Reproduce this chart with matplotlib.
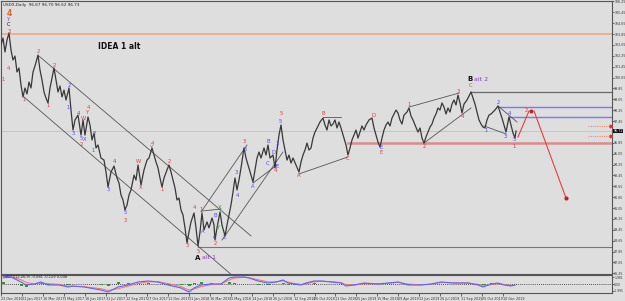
import matplotlib
matplotlib.use("Agg")
import matplotlib.pyplot as plt

# USDX daily, bar slot on chart vs close
t = [0, 2, 4, 6, 8, 10, 12, 14, 16, 18, 20, 22, 24, 26, 28, 30, 32, 34, 37, 39,
     41, 43, 45, 47, 49, 51, 53, 55, 57, 59, 61, 63, 65, 68, 70, 72, 74, 77, 79, 80,
     82, 84, 87, 89, 91, 93, 95, 97, 100, 103, 105, 107, 110, 113, 116, 118, 120, 122, 124, 126,
     128, 130, 133, 135, 137, 139, 140, 143, 146, 148, 151, 153, 155, 157, 159, 161, 163, 166, 168, 170,
     172, 174, 176, 178, 180, 182, 184, 186, 188, 190, 193, 195, 197, 199, 201, 203, 206, 208, 211, 213,
     214, 216, 219, 221, 224, 226, 228, 230, 232, 234, 236, 238, 240, 243, 245, 247, 250, 252, 254, 256,
     258, 260, 263, 265, 267, 269, 272, 274, 276, 278, 280, 282, 284, 286, 288, 290, 292, 295, 298, 300,
     302, 304, 306, 308, 310, 312, 314, 316, 319, 322, 324, 326, 328, 330, 332, 334, 336, 338, 340, 343,
     345, 347, 349, 351, 353, 355, 357, 359, 361, 363, 365, 368, 371, 373, 375, 377, 379, 381, 383, 385,
     387, 389, 391, 393, 395, 397, 399, 401, 403, 406, 408, 410, 412, 414, 417, 419, 421, 423, 425, 427,
     429, 431, 433, 435, 437, 439, 441, 443, 445, 447, 449, 451, 453, 455, 457, 459, 461, 463, 466, 468,
     470, 472, 474, 476, 478, 480, 482, 484, 486, 488, 490, 492, 494, 497, 499, 501, 503, 505, 507, 508,
     510, 512, 514, 515]
close = [103.04, 103.56, 102.53, 103.41, 103.92, 102.67, 101.94, 102.23, 101.06, 101.35, 100.10, 99.22, 99.88, 99.44, 100.32, 99.88, 101.06, 101.50, 102.31, 101.20,
         100.47, 99.59, 99.14, 98.78, 99.88, 100.61, 101.35, 100.47, 99.59, 100.03, 99.22, 99.73, 99.00, 99.88, 98.26, 96.79, 97.53, 97.89, 96.94, 96.42,
         97.53, 96.42, 97.75, 97.16, 96.06, 96.57, 95.47, 95.69, 94.73, 94.58, 93.70, 92.60, 93.70, 94.14, 93.26, 92.89, 92.01, 91.64, 90.91, 91.28,
         92.01, 92.38, 93.48, 93.11, 94.22, 93.26, 92.75, 93.85, 94.58, 94.73, 95.47, 94.95, 94.44, 94.00, 93.26, 92.60, 93.26, 93.85, 94.22, 93.70,
         93.11, 92.53, 91.64, 91.79, 90.91, 90.54, 89.59, 88.48, 89.29, 90.03, 90.69, 89.59, 88.26, 89.29, 90.69, 89.44, 90.03, 89.59, 90.32, 89.81,
         88.70, 89.59, 90.76, 89.81, 89.00, 89.81, 90.54, 91.28, 92.23, 93.26, 92.38, 93.11, 94.00, 95.47, 94.73, 94.22, 93.48, 92.97, 93.85, 94.73,
         95.17, 94.73, 95.47, 94.95, 95.69, 94.73, 94.95, 94.00, 95.32, 96.42, 97.16, 96.06, 95.32, 94.58, 94.95, 94.36, 94.73, 94.22, 93.70, 94.44,
         94.95, 95.32, 95.83, 95.32, 95.47, 96.20, 96.64, 96.94, 97.38, 97.67, 97.16, 96.79, 97.53, 97.09, 97.23, 97.53, 96.94, 97.38, 96.94, 96.20,
         95.69, 94.95, 95.47, 96.06, 96.42, 96.79, 96.20, 96.64, 97.09, 96.79, 97.16, 97.53, 97.67, 96.94, 96.42, 95.91, 95.54, 96.20, 96.79, 97.16,
         97.38, 97.09, 97.67, 97.97, 98.26, 98.04, 97.53, 97.23, 97.89, 98.11, 98.41, 97.82, 97.53, 97.16, 96.64, 96.94, 96.20, 95.83, 96.28, 96.64,
         97.01, 97.23, 97.67, 97.97, 98.41, 98.26, 98.78, 98.48, 97.97, 98.41, 98.11, 98.70, 99.00, 98.63, 99.36, 98.78, 98.04, 98.70, 99.00, 99.29,
         99.59, 99.14, 98.70, 98.11, 97.53, 97.23, 97.01, 96.94, 97.53, 97.89, 97.97, 98.11, 98.26, 98.56, 98.11, 97.67, 97.16, 96.64, 97.38, 97.75,
         97.16, 96.57, 96.20, 96.72]

date_labels = ["23 Dec 2016", "31 Jan 2017", "16 Mar 2017", "3 May 2017", "16 Jun 2017",
               "31 Jul 2017", "12 Sep 2017", "27 Oct 2017", "11 Dec 2017", "31 Jan 2018",
               "16 Mar 2018", "1 May 2018", "14 Jun 2018", "26 Jul 2018", "12 Sep 2018",
               "26 Oct 2018", "11 Dec 2018", "25 Jan 2019", "15 Mar 2019", "29 Apr 2019",
               "12 Jun 2019", "26 Jul 2019", "11 Sep 2019", "25 Oct 2019", "10 Dec 2019"]
price_ticks = [106.25, 105.45, 104.65, 103.85, 103.05, 102.25, 101.45, 100.65, 99.85, 99.05,
               98.25, 97.45, 96.65, 95.85, 95.05, 94.25, 93.45, 92.65, 91.85, 91.05,
               90.25, 89.45, 88.65, 87.85, 87.05, 86.25]

# MACD panel
macd_t = [2, 10, 20, 25, 33, 40, 47, 58, 67, 72, 83, 100, 107, 117, 127, 137, 147, 157, 167, 180,
          188, 193, 200, 210, 220, 228, 233, 243, 248, 257, 267, 275, 282, 287, 293, 300, 305, 313, 320, 330,
          340, 345, 353, 363, 377, 387, 397, 407, 420, 430, 440, 453, 467, 477, 482, 490, 497, 503, 510, 514]
macd = [1.87, 1.63, 0.47, -0.23, 0.0, 0.47, -0.23, -0.23, -0.70, -0.47, -0.70, -1.40, -1.87, -0.70, -0.23, 0.47, 0.70, 0.47, -0.23, -0.93,
        -1.87, -0.93, -0.23, 0.0, 0.0, 1.40, 1.63, 1.63, 1.40, 0.70, 0.23, 0.47, 0.93, 0.23, 0.0, -0.23, 0.23, 0.70, 0.70, 0.47,
        0.23, -0.47, -0.23, 0.23, 0.0, 0.23, 0.47, -0.23, -0.23, 0.0, 0.47, 0.23, 0.23, -0.23, -0.70, 0.0, 0.23, -0.23, -0.47, -0.23]
signal = [1.40, 1.63, 1.00, 0.40, 0.0, 0.23, 0.10, -0.10, -0.47, -0.55, -0.60, -1.10, -1.50, -1.10, -0.50, 0.10, 0.50, 0.55, 0.10, -0.60,
          -1.40, -1.20, -0.60, -0.15, 0.0, 0.90, 1.35, 1.60, 1.50, 1.00, 0.50, 0.45, 0.75, 0.45, 0.15, -0.10, 0.05, 0.50, 0.65, 0.55,
          0.35, -0.15, -0.25, 0.05, 0.05, 0.15, 0.40, 0.0, -0.20, -0.05, 0.35, 0.28, 0.25, -0.05, -0.45, -0.15, 0.10, -0.10, -0.35, -0.30]
osma = [0.45, 0.10, -0.50, -0.60, 0.0, 0.25, -0.30, -0.15, -0.25, 0.10, -0.10, -0.30, -0.35, 0.40, 0.30, 0.35, 0.20, -0.10, -0.30, -0.30,
        -0.45, 0.30, 0.40, 0.15, 0.0, 0.50, 0.30, 0.05, -0.10, -0.30, -0.25, 0.0, 0.20, -0.20, -0.15, -0.10, 0.20, 0.20, 0.05, -0.10,
        -0.10, -0.30, 0.0, 0.20, -0.05, 0.10, 0.10, -0.20, 0.0, 0.05, 0.10, 0.0, 0.0, -0.20, -0.25, 0.15, 0.10, -0.10, -0.10, 0.05]

# drawn objects: trend lines (t1, p1, t2, p2)
trend_lines = [(38, 102.23, 250, 89.00), (23, 99.22, 232, 86.05),
               (200, 90.76, 246, 95.69), (221, 88.70, 282, 95.17),
               (252, 92.89, 276, 94.22), (201, 90.83, 220, 90.98),
               (298, 93.56, 347, 94.81), (322, 97.75, 340, 97.75),
               (408, 98.48, 458, 99.51), (423, 95.83, 470, 98.41),
               (497, 98.56, 516, 97.38), (483, 97.09, 505, 96.50)]
projection_up = ([517, 528], [96.28, 98.19])
projection_down = ([533, 565], [98.19, 91.79])
# horizontal levels: (price, start slot, colour, width)
levels = [(103.85, 0, "#f0a274", 1.1), (96.72, 0, "#c6c6c6", 0.7),
          (99.59, 470, "#6a6a6a", 0.9), (98.48, 497, "#7676ff", 1.0),
          (97.75, 508, "#7676ff", 1.0), (95.83, 347, "#d98c8c", 1.8),
          (88.19, 197, "#777777", 0.8)]
dotted_levels = [97.09, 96.35]

wave_labels = [("4", 8, 105.39, "o"), ("Y", 8, 104.95, "p"), ("C", 8, 104.55, "k"), ("3", 8, 104.07, "r"),
               ("4", 7, 101.28, "r"), ("1", 2, 100.47, "r"), ("1", 23, 99.00, "r"), ("2", 37, 102.53, "r"),
               ("1", 47, 98.63, "r"), ("2", 53, 101.57, "r"), ("2", 68, 100.03, "b"), ("1", 67, 98.41, "b"),
               ("3", 72, 96.57, "b"), ("4", 77, 98.04, "b"), ("W", 82, 97.67, "r"), ("4", 87, 98.48, "r"),
               ("Y", 87, 98.11, "r"), ("5", 80, 96.13, "b"), ("2", 80, 95.69, "r"), ("X", 84, 96.06, "b"),
               ("2", 93, 96.57, "b"), ("1", 92, 95.25, "b"), ("4", 113, 94.44, "b"), ("3", 107, 92.38, "b"),
               ("5", 124, 90.69, "b"), ("3", 124, 90.17, "r"), ("W", 137, 94.51, "r"), ("X", 140, 92.53, "r"),
               ("4", 151, 95.83, "r"), ("Y", 151, 95.47, "r"), ("2", 168, 94.44, "r"), ("1", 161, 92.38, "r"),
               ("3", 186, 88.26, "r"), ("4", 193, 91.06, "r"), ("5", 197, 87.89, "r"), ("1", 200, 90.91, "r"),
               ("A", 202, 89.29, "b"), ("B", 214, 90.47, "b"), ("C", 214, 88.85, "b"), ("2", 214, 88.41, "r"),
               ("X", 219, 91.06, "g"), ("Y", 218, 89.59, "g"), ("Z", 224, 88.92, "b"), ("3", 235, 93.63, "b"),
               ("4", 236, 92.01, "b"), ("3", 243, 95.98, "r"), ("5", 244, 95.39, "b"), ("A", 252, 92.67, "b"),
               ("B", 267, 95.98, "b"), ("D", 272, 95.17, "b"), ("C", 267, 94.36, "b"), ("E", 276, 94.14, "b"),
               ("4", 274, 93.78, "r"), ("3", 276, 95.83, "b"), ("5", 279, 97.45, "b"), ("5", 280, 97.97, "r"),
               ("A", 298, 93.41, "r"), ("B", 322, 97.97, "r"), ("C", 347, 94.73, "r"), ("D", 372, 97.89, "r"),
               ("E", 380, 95.54, "b"), ("E", 380, 95.17, "r"), ("1", 408, 98.70, "r"), ("2", 423, 95.61, "r"),
               ("3", 457, 99.66, "r"), ("4", 461, 97.82, "r"), ("C", 470, 100.03, "r"), ("1", 485, 96.79, "b"),
               ("2", 497, 98.78, "b"), ("3", 504, 96.28, "b"), ("4", 508, 98.04, "b"), ("5", 513, 96.06, "b"),
               ("1", 513, 95.61, "r"), ("2", 525, 98.19, "r")]
label_colors = {"r": "#e23b3b", "b": "#4b4bff", "o": "#e0681c", "p": "#8a3cc8", "g": "#2e9a2e", "k": "#111111"}

bg = "#dedede"
fig = plt.figure(figsize=(6.25, 3.01), dpi=100, facecolor=bg)
ax = fig.add_axes([1 / 625, 1 - 274 / 301, 611 / 625, 273 / 301], facecolor=bg)
ax2 = fig.add_axes([1 / 625, 1 - 293 / 301, 611 / 625, 18 / 301], facecolor=bg)

ax.set_xlim(0, 611)
ax.set_ylim(86.20, 106.28)
ax2.set_xlim(0, 611)
ax2.set_ylim(-2.1, 2.1)

for p, start, col, lw in levels:
    ax.plot([start, 611], [p, p], color=col, lw=lw, zorder=1)
for p in dotted_levels:
    ax.plot([587, 610], [p, p], color="#f08a6a", lw=0.8, ls=(0, (1, 1)), zorder=2)
    ax.plot([610], [p], marker=">", color="#e03030", ms=2, zorder=3)

for t1, p1, t2, p2 in trend_lines:
    ax.plot([t1, t2], [p1, p2], color="#555555", lw=0.6, zorder=2)

ax.plot(t, close, color="#383838", lw=0.9, zorder=3)

ax.plot(projection_up[0], projection_up[1], color="#e04040", lw=0.8, zorder=3)
ax.plot(projection_down[0], projection_down[1], color="#e04040", lw=0.8, zorder=3)
ax.plot([projection_down[0][1]], [projection_down[1][1]], marker="o", color="#c02020", ms=2, zorder=4)
ax.plot([projection_up[0][1] + 2], [projection_up[1][1]], marker="o", color="#c02020", ms=1.8, zorder=4)

for txt, x, y, c in wave_labels:
    big = (c == "o")
    ax.text(x, y, txt, color=label_colors[c], fontsize=5.5 if big else 3.8,
            fontweight="bold" if big else "normal", ha="center", va="center", zorder=5)

ax.text(97, 102.97, "IDEA 1 alt", fontsize=5.5, fontweight="bold", color="#111111", va="center")
ax.text(194, 87.38, "A", fontsize=5, fontweight="bold", color="#111111", va="center")
ax.text(201, 87.38, "alt 1", fontsize=4.5, color="#8a3cc8", va="center")
ax.text(466, 100.54, "B", fontsize=5, fontweight="bold", color="#111111", va="center")
ax.text(473, 100.54, "alt 2", fontsize=4.5, color="#8a3cc8", va="center")
ax.text(2, 105.95, "USDX,Daily  96.67 96.70 96.62 96.73", fontsize=3, color="#222222", va="center")

# current price tag
ax.text(612.5, 96.72, "96.72", fontsize=2.4, color="white", va="center", ha="left",
        bbox=dict(boxstyle="square,pad=0.1", fc="#111111", ec="none"), clip_on=False, zorder=6)

ax.yaxis.tick_right()
ax.set_yticks(price_ticks)
ax.set_yticklabels([f"{v:.2f}" for v in price_ticks])
ax.tick_params(axis="y", labelsize=2.3, length=1.2, width=0.5, pad=0.4, colors="#333333")
ax.set_xticks([])
for s in ax.spines.values():
    s.set_color("#555555")
    s.set_linewidth(0.8)

# indicator panel
ax2.axhline(0, color="#222222", lw=0.6, ls=(0, (1, 1.5)))
ax2.bar(macd_t, osma, width=3, color="#2e9a2e", zorder=2)
ax2.plot(macd_t, signal, color="#ff6f6f", lw=0.7, zorder=3)
ax2.plot(macd_t, macd, color="#6060ff", lw=0.8, zorder=4)
ax2.text(2, 1.6, "MACD(12,26,9) -0.081 -0.129 0.048", fontsize=2.6, color="#222222", va="center")
ax2.yaxis.tick_right()
ax2.set_yticks([1.6, 0, -1.6])
ax2.set_yticklabels(["1.981", "0.00", "-1.995"])
ax2.tick_params(axis="y", labelsize=2.2, length=1.2, width=0.5, pad=0.4, colors="#333333")
ax2.set_xticks([20.9 * i for i in range(len(date_labels))])
ax2.set_xticklabels(date_labels)
ax2.tick_params(axis="x", labelsize=2.4, length=2, width=0.5, pad=1, colors="#333333")
plt.setp(ax2.get_xticklabels(), ha="left")
for s in ax2.spines.values():
    s.set_color("#555555")
    s.set_linewidth(0.8)

fig.savefig("out.png", dpi=100, facecolor=bg)
